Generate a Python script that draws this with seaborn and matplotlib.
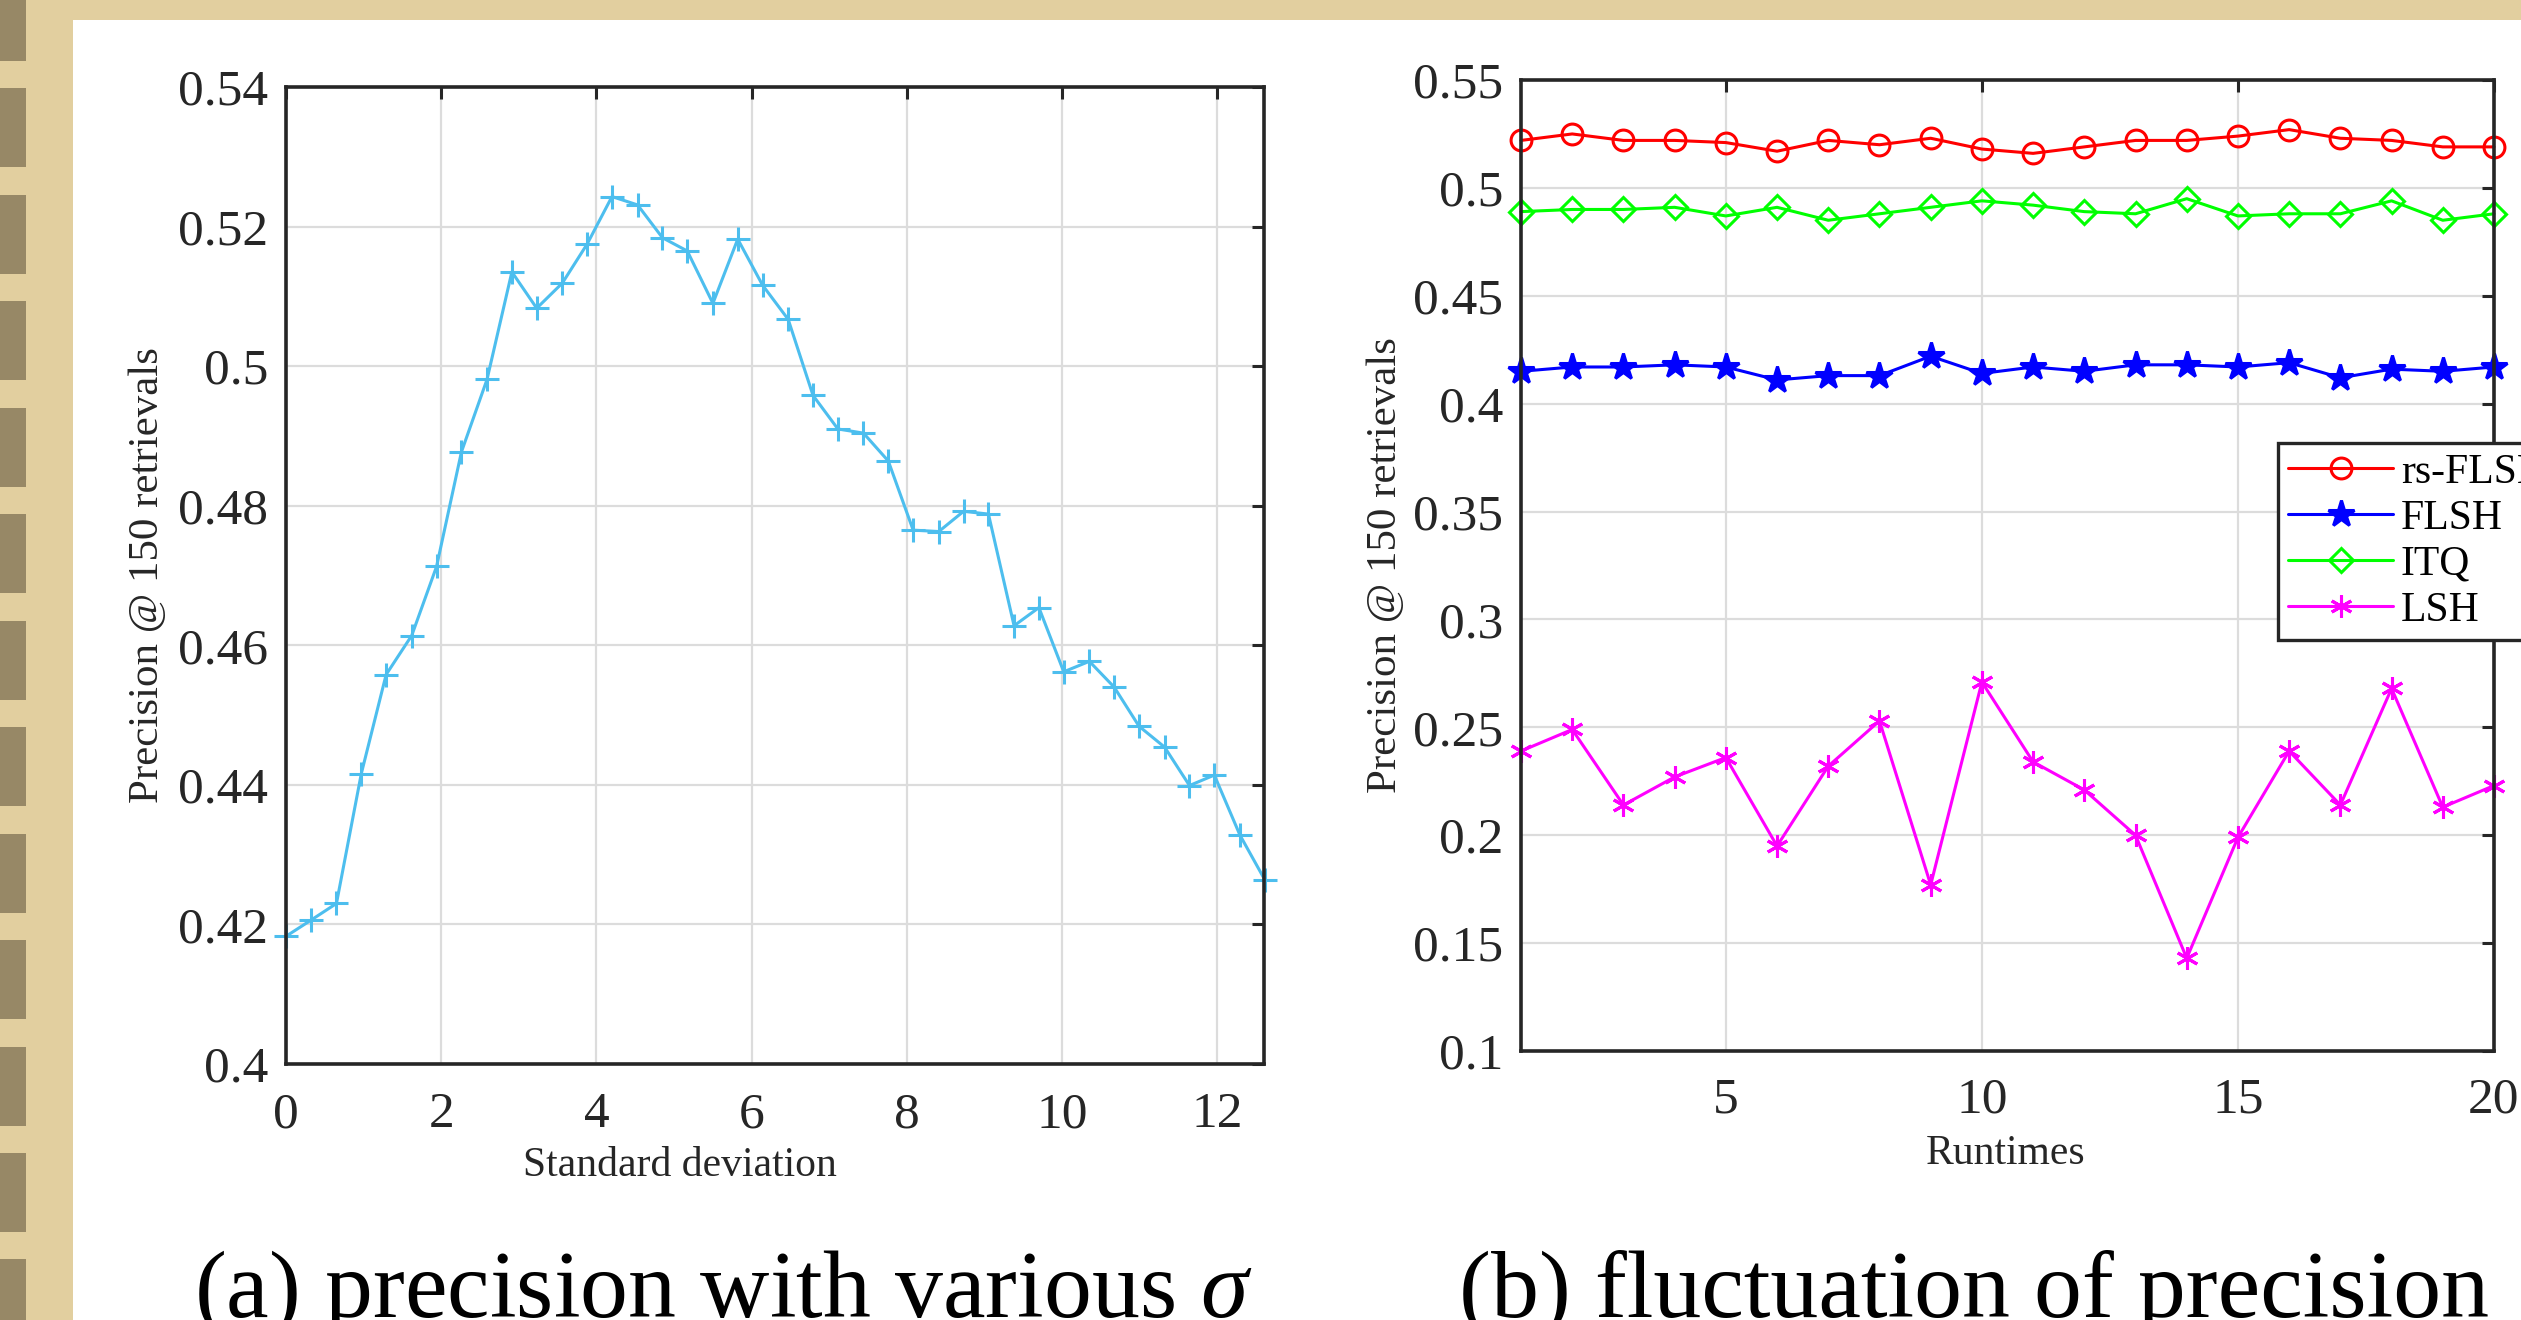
import numpy as np
import pandas as pd
import matplotlib
matplotlib.use("Agg")
import matplotlib.pyplot as plt
from matplotlib.patches import Rectangle
from matplotlib.ticker import FuncFormatter
import seaborn as sns

# (a) precision vs. standard deviation of the projection
sigma = [0.00, 0.32, 0.65, 0.97, 1.29, 1.62, 1.94, 2.26, 2.59, 2.91,
         3.23, 3.56, 3.88, 4.20, 4.53, 4.85, 5.17, 5.50, 5.82, 6.14,
         6.47, 6.79, 7.11, 7.44, 7.76, 8.08, 8.41, 8.73, 9.05, 9.38,
         9.70, 10.02, 10.35, 10.67, 10.99, 11.32, 11.64, 11.96, 12.29, 12.61]
precision_sigma = [0.4183, 0.4206, 0.4230, 0.4416, 0.4558, 0.4614, 0.4713, 0.4877, 0.4981, 0.5135,
                   0.5083, 0.5119, 0.5175, 0.5243, 0.5231, 0.5184, 0.5165, 0.5090, 0.5182, 0.5116,
                   0.5067, 0.4958, 0.4910, 0.4904, 0.4864, 0.4765, 0.4763, 0.4792, 0.4788, 0.4628,
                   0.4654, 0.4562, 0.4577, 0.4540, 0.4484, 0.4454, 0.4399, 0.4414, 0.4328, 0.4264]

# (b) precision over 20 runs
runtimes = list(range(1, 21))
rs_flsh = [0.522, 0.525, 0.522, 0.522, 0.521, 0.517, 0.522, 0.520, 0.523, 0.518,
           0.516, 0.519, 0.522, 0.522, 0.524, 0.527, 0.523, 0.522, 0.519, 0.519]
flsh = [0.415, 0.417, 0.417, 0.418, 0.417, 0.411, 0.413, 0.413, 0.422, 0.414,
        0.417, 0.415, 0.418, 0.418, 0.417, 0.419, 0.412, 0.416, 0.415, 0.417]
itq = [0.489, 0.490, 0.490, 0.491, 0.487, 0.491, 0.485, 0.488, 0.491, 0.494,
       0.492, 0.489, 0.488, 0.495, 0.487, 0.488, 0.488, 0.494, 0.485, 0.488]
lsh = [0.239, 0.249, 0.214, 0.227, 0.236, 0.195, 0.232, 0.253, 0.177, 0.271,
       0.234, 0.221, 0.200, 0.143, 0.199, 0.239, 0.214, 0.268, 0.213, 0.223]

ticks_a_x = [0, 2, 4, 6, 8, 10, 12]
ticks_a_y = [0.4, 0.42, 0.44, 0.46, 0.48, 0.5, 0.52, 0.54]
ticks_b_x = [5, 10, 15, 20]
ticks_b_y = [0.1, 0.15, 0.2, 0.25, 0.3, 0.35, 0.4, 0.45, 0.5, 0.55]

sns.set_theme(style="whitegrid")
plt.rcParams["font.family"] = ["Liberation Serif", "DejaVu Serif"]
plt.rcParams["mathtext.fontset"] = "custom"
plt.rcParams["mathtext.rm"] = "Liberation Serif"
plt.rcParams["mathtext.it"] = "Liberation Serif:italic"

W, H = 2521, 1320
fig = plt.figure(figsize=(W / 100, H / 100), dpi=100)

# parchment page border with the dark blocks down the left edge
fig.patches.append(Rectangle((0, 0), 1, 1, transform=fig.transFigure,
                             facecolor="#e2cf9f", edgecolor="none", zorder=-20))
for k in range(14):
    top = -18.5 + 106.5 * k
    fig.patches.append(Rectangle((0, 1 - (top + 79) / H), 26 / W, 79 / H,
                                 transform=fig.transFigure, facecolor="#978866",
                                 edgecolor="none", zorder=-19))
fig.patches.append(Rectangle((73 / W, 0), 1, (H - 20) / H, transform=fig.transFigure,
                             facecolor="white", edgecolor="none", zorder=-18))

ink = "#262626"


def style_axes(ax, xticks, yticks, xpad, ypad):
    ax.set_facecolor("white")
    ax.set_xticks(xticks)
    ax.set_yticks(yticks)
    fmt = FuncFormatter(lambda v, p: "{:g}".format(round(v, 4)))
    ax.xaxis.set_major_formatter(fmt)
    ax.yaxis.set_major_formatter(fmt)
    ax.grid(True, color="#dcdcdc", linewidth=1.6)
    ax.set_axisbelow(True)
    for s in ax.spines.values():
        s.set_visible(True)
        s.set_color(ink)
        s.set_linewidth(2.6)
    ax.tick_params(axis="both", direction="in", length=8.5, width=2.2, color=ink,
                   labelcolor=ink, labelsize=37, top=True, right=True)
    ax.tick_params(axis="x", pad=xpad)
    ax.tick_params(axis="y", pad=ypad)


# ---- (a)
ax1 = fig.add_axes([286 / W, 1 - 1064 / H, (1264 - 286) / W, (1064 - 87) / H])
df_a = pd.DataFrame({"sigma": sigma, "precision": precision_sigma})
sns.lineplot(data=df_a, x="sigma", y="precision", ax=ax1, color="#4dbeee",
             linewidth=2.2, marker="+", markersize=17, markeredgewidth=2.2,
             markeredgecolor="#4dbeee", clip_on=False)
ax1.set_xlim(0, 12.6)
ax1.set_ylim(0.4, 0.54)
style_axes(ax1, ticks_a_x, ticks_a_y, 20, 13)
ax1.set_xlabel("Standard deviation", fontsize=30, color=ink, va="center")
ax1.set_ylabel("Precision @ 150 retrievals", fontsize=31, color=ink, va="center")
ax1.xaxis.set_label_coords(0.403, -0.104)
ax1.yaxis.set_label_coords(-0.141, 0.5)

# ---- (b)
ax2 = fig.add_axes([1521 / W, 1 - 1051 / H, (2494 - 1521) / W, (1051 - 80) / H])
series = [
    ("rs-FLSH", rs_flsh, "#ff0000", "o", 15, "none"),
    ("FLSH", flsh, "#0000ff", "*", 20, "#0000ff"),
    ("ITQ", itq, "#00ff00", "D", 12, "none"),
    ("LSH", lsh, "#ff00ff", (6, 2, 0), 16, "#ff00ff"),
]
for name, vals, col, mk, ms, fc in series:
    sns.lineplot(x=runtimes, y=vals, ax=ax2, color=col, linewidth=2.2, marker=mk,
                 markersize=ms, markeredgewidth=2.2, markeredgecolor=col,
                 markerfacecolor=fc, label=name, clip_on=False)
ax2.set_xlim(1, 20)
ax2.set_ylim(0.1, 0.55)
style_axes(ax2, ticks_b_x, ticks_b_y, 19, 13)
ax2.set_xlabel("Runtimes", fontsize=30, color=ink, va="center")
ax2.set_ylabel("Precision @ 150 retrievals", fontsize=31, color=ink, va="center")
ax2.xaxis.set_label_coords(0.498, -0.106)
ax2.yaxis.set_label_coords(-0.139, 0.5)

leg = ax2.legend(loc="upper left", bbox_to_anchor=(2278 / W, 1 - 443 / H),
                 bbox_transform=fig.transFigure, fontsize=30, frameon=True,
                 fancybox=False, framealpha=1, edgecolor=ink, handlelength=2.5,
                 handletextpad=0.2, labelspacing=0.18, borderpad=0.25,
                 borderaxespad=0)
leg.get_frame().set_linewidth(2.4)
for t in leg.get_texts():
    t.set_color("black")

# captions under each panel (cut at the page bottom, as in the source)
fig.text(723 / W, 1 - 1317 / H, r"(a) precision with various $\sigma$", fontsize=69,
         ha="center", va="baseline", color="black")
fig.text(1974 / W, 1 - 1317 / H, "(b) fluctuation of precision", fontsize=69,
         ha="center", va="baseline", color="black")

fig.savefig("out.png", dpi=100)
